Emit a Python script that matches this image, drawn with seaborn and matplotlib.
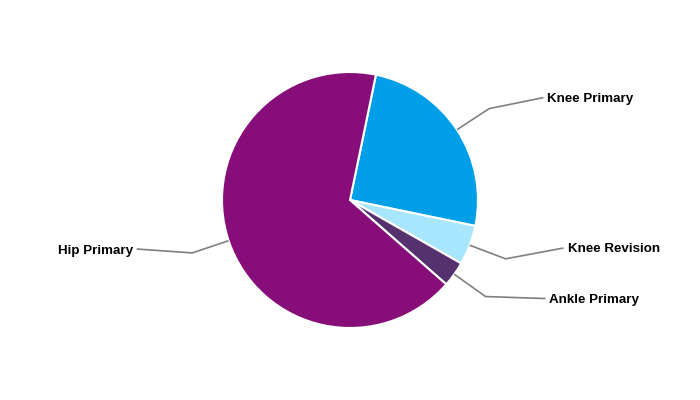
import numpy as np
import matplotlib
matplotlib.use('Agg')
import matplotlib.pyplot as plt
import seaborn as sns

# Data
labels = ['Knee Primary', 'Knee Revision', 'Ankle Primary', 'Hip Primary']
shares = [25.0, 5.0, 3.2, 66.8]
colors = ['#009FE8', '#A8E6FE', '#553170', '#870E78']

# label layout (y in pie radii, side of pie)
label_y = [0.80, -0.375, -0.77, -0.383]
label_side = [1, 1, 1, -1]

sns.set_theme(style='white')
plt.rcParams['font.family'] = ['Liberation Sans', 'DejaVu Sans']

R_PX = 128
fig = plt.figure(figsize=(7, 4), dpi=100)
ax = fig.add_axes([0, 0, 1, 1])

wedges, _ = ax.pie(shares, colors=colors, startangle=78.3, counterclock=False,
                   radius=1.0, wedgeprops=dict(edgecolor='white', linewidth=1.5))

# pie() resets limits, so set them afterwards
ax.set_xlim(-350 / R_PX, 350 / R_PX)
ax.set_ylim(-200 / R_PX, 200 / R_PX)
ax.set_aspect('equal')
ax.axis('off')

r_label = 1.71
for w, lab, ly, side in zip(wedges, labels, label_y, label_side):
    mid = np.deg2rad((w.theta1 + w.theta2) / 2)
    x0, y0 = 1.0 * np.cos(mid), 1.0 * np.sin(mid)
    x1, y1 = 1.30 * np.cos(mid), 1.30 * np.sin(mid)
    x2 = side * np.sqrt(r_label ** 2 - ly ** 2)
    ax.plot([x0, x1, x2], [y0, y1, ly], color='#808080', lw=1.2, zorder=1,
            solid_capstyle='butt')
    tx = x2 + side * 4 / R_PX
    ax.text(tx, ly - 1.5 / R_PX, lab, ha='left' if side > 0 else 'right', va='center',
            fontsize=9.6, fontweight='bold', color='black')

fig.savefig('out.png', dpi=100, facecolor='white')
